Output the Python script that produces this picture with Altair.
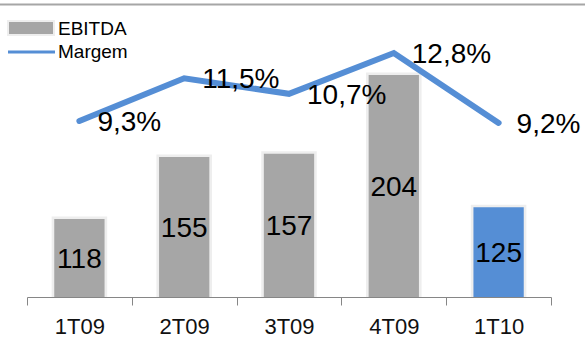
import altair as alt
import pandas as pd

# Quarterly EBITDA (R$ million) and EBITDA margin (%)
quarters = ["1T09", "2T09", "3T09", "4T09", "1T10"]
ebitda = [118, 155, 157, 204, 125]
margem = [9.3, 11.5, 10.7, 12.8, 9.2]
highlight = [False, False, False, False, True]

GRAY = "#a6a6a6"
BLUE = "#558ed5"
FONT = "Liberation Sans"

PLOT_W, PLOT_H = 524, 297
BAR_DOMAIN = [71.4, 248.8]
LINE_DOMAIN = [0.24, 15.53]

df = pd.DataFrame({"q": quarters, "ebitda": ebitda, "margem": margem, "atual": highlight})

x = alt.X("q:N", sort=quarters, title=None,
          scale=alt.Scale(paddingInner=0, paddingOuter=0),
          axis=alt.Axis(tickBand="extent", labelAngle=0, labelFontSize=22,
                        labelFont=FONT, labelColor="#111111", labelFontWeight="normal",
                        labelPadding=11,
                        domainColor="#868686", tickColor="#868686",
                        tickSize=8, domainWidth=1, tickWidth=1, grid=False))

bar_scale = alt.Scale(domain=BAR_DOMAIN, zero=False, nice=False, clamp=True)
ybar = alt.Y("ebitda:Q", scale=bar_scale, axis=None)
ybase = alt.datum(BAR_DOMAIN[0])

base = alt.Chart(df)

# soft halo drawn behind each bar
glow = base.mark_bar(color="#eeeeee", width=alt.RelativeBandSize(0.53), yOffset=-2.5).encode(
    x=x, y=ybar, y2=ybase)

bars = base.mark_bar(width=alt.RelativeBandSize(0.48)).encode(
    x=x, y=ybar, y2=ybase,
    color=alt.condition("datum.atual", alt.value(BLUE), alt.value(GRAY)))

bar_labels = base.transform_calculate(
    mid=f"(datum.ebitda + {BAR_DOMAIN[0]}) / 2"
).mark_text(font=FONT, fontSize=28, color="black", baseline="middle", dy=2).encode(
    x=x,
    y=alt.Y("mid:Q", scale=bar_scale, axis=None),
    text=alt.Text("ebitda:Q"))

bar_layer = alt.layer(glow, bars, bar_labels)

yline = alt.Y("margem:Q", scale=alt.Scale(domain=LINE_DOMAIN, zero=False, nice=False), axis=None)

line = base.mark_line(color=BLUE, strokeWidth=6, strokeCap="round", strokeJoin="miter").encode(
    x=x, y=yline)

line_labels = base.transform_calculate(
    lbl="replace(format(datum.margem, '.1f'), '.', ',') + '%'"
).mark_text(font=FONT, fontSize=28, color="black", align="left", baseline="middle", dx=18, dy=2).encode(
    x=x, y=yline, text="lbl:N")

line_layer = alt.layer(line, line_labels)

# legend and top border line
legend_rows = pd.DataFrame({"nome": ["EBITDA", "Margem"]})
top_border = alt.Chart(legend_rows).transform_filter("datum.nome == 'EBITDA'").mark_rule(
    color="#a6a6a6", strokeWidth=2).encode(
    x=alt.value(-27), x2=alt.value(PLOT_W + 34), y=alt.value(4.5))
leg_glow = alt.Chart(legend_rows).transform_filter("datum.nome == 'EBITDA'").mark_rect(
    color="#eeeeee").encode(
    x=alt.value(-20), x2=alt.value(28), y=alt.value(20), y2=alt.value(36))
leg_rect = alt.Chart(legend_rows).transform_filter("datum.nome == 'EBITDA'").mark_rect(
    color=GRAY).encode(
    x=alt.value(-18), x2=alt.value(26), y=alt.value(22), y2=alt.value(34))
leg_line = alt.Chart(legend_rows).transform_filter("datum.nome == 'Margem'").mark_rule(
    color=BLUE, strokeWidth=3).encode(
    x=alt.value(-19), x2=alt.value(28), y=alt.value(52))
leg_text1 = alt.Chart(legend_rows).transform_filter("datum.nome == 'EBITDA'").mark_text(
    font=FONT, fontSize=19, color="black", align="left", baseline="alphabetic").encode(
    x=alt.value(31), y=alt.value(35), text="nome:N")
leg_text2 = alt.Chart(legend_rows).transform_filter("datum.nome == 'Margem'").mark_text(
    font=FONT, fontSize=19, color="black", align="left", baseline="alphabetic").encode(
    x=alt.value(31), y=alt.value(58), text="nome:N")

chart = alt.layer(
    bar_layer, line_layer, top_border, leg_glow, leg_rect, leg_line, leg_text1, leg_text2
).resolve_scale(y="independent").properties(
    width=PLOT_W, height=PLOT_H,
    background="white",
    autosize=alt.AutoSizeParams(type="none"),
    padding={"left": 27, "top": 0, "right": 34, "bottom": 46},
).configure_view(stroke="transparent", strokeWidth=0
).configure_axis(grid=False)

chart.save("out.html", embed_options={"renderer": "svg", "actions": False})
